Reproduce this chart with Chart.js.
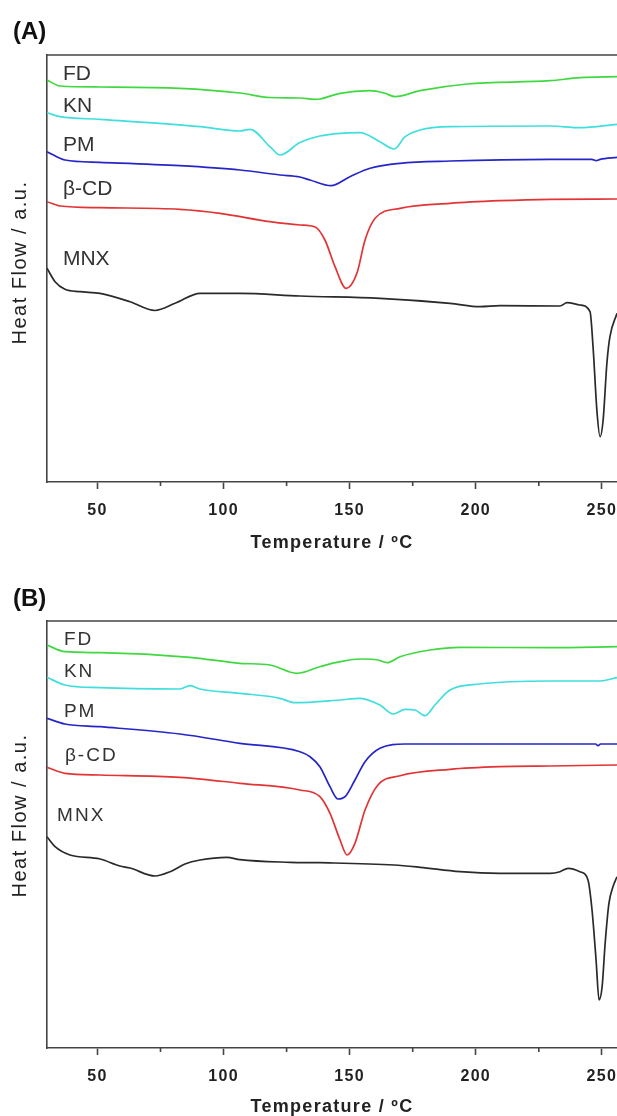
<!DOCTYPE html>
<html>
<head>
<meta charset="utf-8">
<script src="https://cdn.jsdelivr.net/npm/chart.js@4.4.1/dist/chart.umd.min.js"></script>
<style>
  body { margin: 0; background: #fff; }
  .panel { position: relative; width: 617px; height: 558px; }
  .tag { position: absolute; left: 13px; font: bold 24px "Liberation Sans", Arial, sans-serif; color: #111; line-height: 28px; }
</style>
</head>
<body>
<div class="panel"><canvas id="cA" width="617" height="558"></canvas><div class="tag" style="top:17px">(A)</div></div>
<div class="panel"><canvas id="cB" width="617" height="558"></canvas><div class="tag" style="top:26px">(B)</div></div>
<script>
// DSC thermograms, [temperature °C, heat flow a.u.]
const names = ['FD', 'KN', 'PM', 'β-CD', 'MNX']
const colors = ['#40d840', '#40dede', '#2626c8', '#e23434', '#2a2a2a']

const xTicks = [50, 100, 150, 200, 250]
const xMinor = [75, 125, 175, 225]

// panel A
const fdA = [[30,402],[35.2,396],[51,395],[82.7,393.7],[106.5,389],[118.4,384.5],[130.3,384],[136.3,382.7],[138.2,383],[146.2,388.7],[158.1,391.3],[164,388.7],[168,385.3],[177.9,391.3],[196.5,398],[229.4,401.3],[241.3,404.3],[256,405.3]]
const knA = [[30,369.3],[35.2,365.3],[51,362.7],[90.7,355.3],[106.5,351],[110.5,352.7],[118.4,335.3],[122.4,327],[130.3,339.5],[138.2,346],[146.2,348.7],[154.1,349.3],[162,340.3],[167.6,333],[172,345.3],[177.9,352],[189.8,355.3],[229.4,356],[241.3,354.3],[256,357.7]]
const pmA = [[30,330.3],[37.1,322],[51,319.7],[82.7,316.3],[106.5,312],[122.4,307],[130.3,305],[134.3,302],[142.6,296.3],[150.1,305.3],[158.1,313.7],[170,318.7],[189.8,321],[229.4,322.7],[246,322.7],[247.8,321.3],[249.3,322.7],[256,324.7]]
const cdA = [[30,280.3],[35.2,276],[51,274.3],[82.7,272.7],[98.6,268.7],[118.4,260.3],[130.3,257],[136.3,255],[140.2,242],[144.2,215.3],[148.6,193.7],[152.9,209],[156.1,242],[160.1,263.7],[170,273.7],[189.8,278.7],[209.6,281.3],[229.4,282.7],[256,283]]
const mnxA = [[30,213.7],[33.2,200.3],[37.1,192.7],[43.1,190.3],[51,188.7],[62.9,180.3],[72.8,171.5],[80.8,178.7],[90.7,188.7],[106.5,188.7],[130.3,186],[162,183.7],[189.8,178.7],[201.7,175.3],[209.6,176.3],[233.4,176],[236.2,179.3],[241.3,177],[245.3,170.3],[246.5,135.3],[248.1,69],[249.3,45.3],[250.5,62],[252,119],[253.2,145.3],[256,168.7]]

// panel B
const fdB = [[30,403],[37.1,396.3],[51,395.3],[86.7,390.7],[106.5,384.7],[118.4,383],[129.1,374.7],[138.2,381.3],[146.2,386.3],[154.1,389],[161.2,388],[164.8,385.3],[170,391.3],[181.9,398],[193.8,400.7],[229.4,400.3],[256,401.3]]
const knB = [[30,370.7],[37.1,363],[51,360.3],[82.7,359],[86.7,362.3],[90.7,359],[106.5,354.7],[122.4,349.7],[128.3,345.3],[146.2,348],[154.1,349.7],[162,343],[167.2,334],[172,338.7],[175.9,338],[179.9,332.3],[183.8,343],[189.8,358],[201.7,364],[229.4,367],[249.3,367],[256,370.3]]
const pmB = [[30,329.7],[37.1,324],[51,321.3],[82.7,314],[106.5,304.7],[130.3,296.3],[134.3,291.3],[138.2,281.3],[142.2,261.3],[145.4,249],[148.2,251.3],[152.1,268],[156.1,286.3],[162,299.7],[172,304],[209.6,304],[247.5,304],[248.5,302.3],[249.5,304],[256,304]]
const cdB = [[30,280.7],[37.1,274.7],[51,273],[82.7,270.7],[106.5,264.7],[130.3,258],[138.2,251.3],[142.2,234.7],[146.2,208],[149,193],[152.1,204.7],[156.1,238],[161.2,263],[170,272.3],[189.8,278.7],[209.6,281.3],[229.4,282],[256,283]]
const mnxB = [[30,211.3],[33.2,201.3],[39.1,193],[51,189],[58.9,182],[62.9,180],[72.8,172],[78.8,176.3],[84.7,184],[90.7,188],[101.4,190.7],[106.5,188.3],[126.4,185.7],[138.2,185.3],[167.6,183],[177.9,180.7],[193.8,176.3],[209.6,174.7],[229.4,174.7],[233.4,176.3],[236.6,179.7],[241.3,176.3],[244.5,168],[246.1,138],[247.7,88],[248.9,48],[250.1,61.3],[251.3,104.7],[252.8,144.7],[254.4,161.3],[256,171.3]]

// where the curve names sit (data units)
const tagsA = [[36.3,402],[36.3,370],[36.3,331],[36.3,287],[36.3,217]]
const tagsB = [[36.7,403],[36.7,371],[36.7,331],[37.1,287],[34,227]]

const FONT = '"Liberation Sans", Arial, sans-serif'
const AXIS = '#444'

function makePanel(id, series, tags, cfg) {
    const framePlugin = {
        id: 'frame',
        beforeDraw(chart) { chart.ctx.letterSpacing = '1.3px' },
        beforeDatasetsDraw(chart) { chart.ctx.letterSpacing = '0px' },
        afterDraw(chart) {
            const { ctx, chartArea: a, scales: { x, y } } = chart
            ctx.save()
            ctx.strokeStyle = AXIS
            ctx.lineWidth = 1.6
            ctx.beginPath()
            ctx.moveTo(a.left - 0.8, a.top)
            ctx.lineTo(a.right, a.top)
            // minor ticks
            xMinor.forEach(v => {
                const px = x.getPixelForValue(v)
                ctx.moveTo(px, a.bottom)
                ctx.lineTo(px, a.bottom + 4)
            })
            ctx.stroke()

            // curve names
            ctx.fillStyle = '#333'
            ctx.font = cfg.tagFont
            ctx.letterSpacing = cfg.tagSpacing
            ctx.textBaseline = 'alphabetic'
            tags.forEach((t, i) => {
                ctx.fillText(names[i], x.getPixelForValue(t[0]), y.getPixelForValue(t[1]))
            })

            // y title
            ctx.letterSpacing = '1.5px'
            ctx.font = '20px ' + FONT
            ctx.fillStyle = '#222'
            ctx.textAlign = 'center'
            ctx.textBaseline = 'middle'
            ctx.translate(20, (a.top + a.bottom) / 2 + cfg.yTitleShift)
            ctx.rotate(-Math.PI / 2)
            ctx.fillText('Heat Flow / a.u.', 0, 0)
            ctx.restore()
        }
    }

    new Chart(document.getElementById(id), {
        type: 'line',
        data: {
            datasets: series.map((s, i) => ({
                label: names[i],
                data: s.map(p => ({ x: p[0], y: p[1] })),
                borderColor: colors[i],
                borderWidth: 1.7,
                pointRadius: 0,
                cubicInterpolationMode: 'monotone',
            })),
        },
        options: {
            responsive: false,
            animation: false,
            devicePixelRatio: 1,
            layout: { padding: { top: cfg.padTop, left: 0, right: 0, bottom: 0 } },
            plugins: { legend: { display: false }, tooltip: { enabled: false } },
            scales: {
                x: {
                    type: 'linear',
                    min: 30,
                    max: 256,
                    afterBuildTicks: s => { s.ticks = xTicks.map(v => ({ value: v })) },
                    afterFit: s => { s.height = cfg.axisH; s.paddingLeft = 0; s.paddingRight = 0 },
                    grid: { drawOnChartArea: false, drawTicks: true, tickLength: 7, tickColor: AXIS, tickWidth: 1.6 },
                    border: { display: true, color: AXIS, width: 1.6 },
                    ticks: {
                        padding: 12,
                        maxRotation: 0,
                        color: '#222',
                        font: { family: FONT, size: 16, weight: 'bold' },
                    },
                    title: {
                        display: true,
                        text: 'Temperature / ºC',
                        color: '#222',
                        font: { family: FONT, size: 18, weight: 'bold', lineHeight: 1 },
                        padding: { top: 0, bottom: cfg.titlePad },
                    },
                },
                y: {
                    min: 0,
                    max: 427,
                    afterFit: s => { s.width = 47 },
                    grid: { drawOnChartArea: false, drawTicks: false },
                    border: { display: true, color: AXIS, width: 1.6 },
                    ticks: { display: false },
                },
            },
        },
        plugins: [framePlugin],
    })
}

makePanel('cA', [fdA, knA, pmA, cdA, mnxA], tagsA,
    { padTop: 55, axisH: 76, titlePad: 6, yTitleShift: -6, tagFont: '21px ' + FONT, tagSpacing: '0px' })
makePanel('cB', [fdB, knB, pmB, cdB, mnxB], tagsB,
    { padTop: 63, axisH: 68, titlePad: 0, yTitleShift: -19, tagFont: '19px ' + FONT, tagSpacing: '2px' })
</script>
</body>
</html>
